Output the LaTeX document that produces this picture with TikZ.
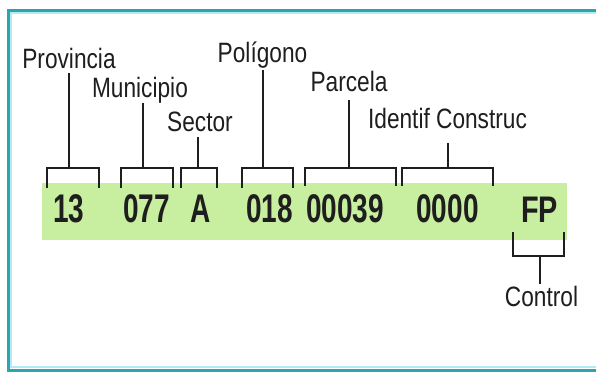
\documentclass[tikz,border=0pt]{standalone}
\usepackage{fontspec}
\newfontfamily\labfont[FakeStretch=0.81]{Liberation Sans}
\newfontfamily\digfont[FakeStretch=0.70]{Liberation Sans}
\newfontfamily\fpfont[FakeStretch=0.78]{Liberation Sans}
\definecolor{frameteal}{RGB}{45,165,175}
\definecolor{framelight}{RGB}{175,235,240}
\definecolor{bandgreen}{RGB}{200,238,160}
\definecolor{inkc}{RGB}{30,30,30}
\begin{document}
\begin{tikzpicture}[x=1pt,y=-1pt,
  lab/.style={font=\labfont\fontsize{28}{30}\selectfont, inner sep=0pt, anchor=base, text=inkc},
  dig/.style={font=\digfont\bfseries\fontsize{40}{42}\selectfont, inner sep=0pt, anchor=base, text=inkc},
  brk/.style={draw=inkc, line width=1.5pt},
  stem/.style={draw=inkc, line width=1.5pt}]
\useasboundingbox (0,0) rectangle (596,373);
\fill[white] (0,0) rectangle (596,373);
% frame
\draw[framelight, line width=2.5pt] (596,13) -- (11,13) -- (11,367) -- (596,367);
\draw[frameteal, line width=3pt] (596,10) -- (8,10) -- (8,370) -- (596,370);
% green band
\fill[bandgreen] (42,183) rectangle (567,240);
% values
\node[dig] (v1) at (69,222) {13};
\node[dig] (v2) at (146.5,222) {077};
\node[dig] (v3) at (200.5,222) {A};
\node[dig] (v4) at (269.5,222) {018};
\node[dig] (v5) at (345,222) {00039};
\node[dig] (v6) at (447.5,222) {0000};
\node[dig, font=\fpfont\bfseries\fontsize{37}{39}\selectfont] (v7) at (539.5,222) {FP};
% labels
\node[lab] (l1) at (69,68) {Provincia};
\node[lab] (l2) at (140,97) {Municipio};
\node[lab] (l3) at (200,131) {Sector};
\node[lab] (l4) at (262.5,62) {Polígono};
\node[lab] (l5) at (349,91) {Parcela};
\node[lab] (l6) at (447.5,128) {Identif Construc};
\node[lab] (l7) at (541.5,306) {Control};
% bracket stem coordinates
\coordinate (t1) at (69,168);
\coordinate (t2) at (143,168);
\coordinate (t3) at (198,168);
\coordinate (t4) at (263,168);
\coordinate (t5) at (349,168);
\coordinate (t6) at (448,168);
\coordinate (t7) at (540,256);
% brackets
\draw[brk] (47,188) |- (99,168) -- (99,188);
\draw[brk] (121,188) |- (173,168) -- (173,188);
\draw[brk] (181,188) |- (217,168) -- (217,188);
\draw[brk] (242,188) |- (293,168) -- (293,188);
\draw[brk] (305,186) |- (396,168) -- (396,186);
\draw[brk] (402,186) |- (493,168) -- (493,186);
\draw[brk] (513,232) |- (564,256) -- (564,232);
% stems
\draw[stem, shorten <=5pt] (l1.south -| t1) -- (t1);
\draw[stem, shorten <=6pt] (l2.base -| t2) -- (t2);
\draw[stem, shorten <=6pt] (l3.south -| t3) -- (t3);
\draw[stem, shorten <=8pt] (l4.base -| t4) -- (t4);
\draw[stem, shorten <=9pt] (l5.south -| t5) -- (t5);
\draw[stem, shorten <=15pt] (l6.south -| t6) -- (t6);
\draw[stem, shorten >=2pt] (t7) -- (l7.north -| t7);
\end{tikzpicture}
\end{document}
